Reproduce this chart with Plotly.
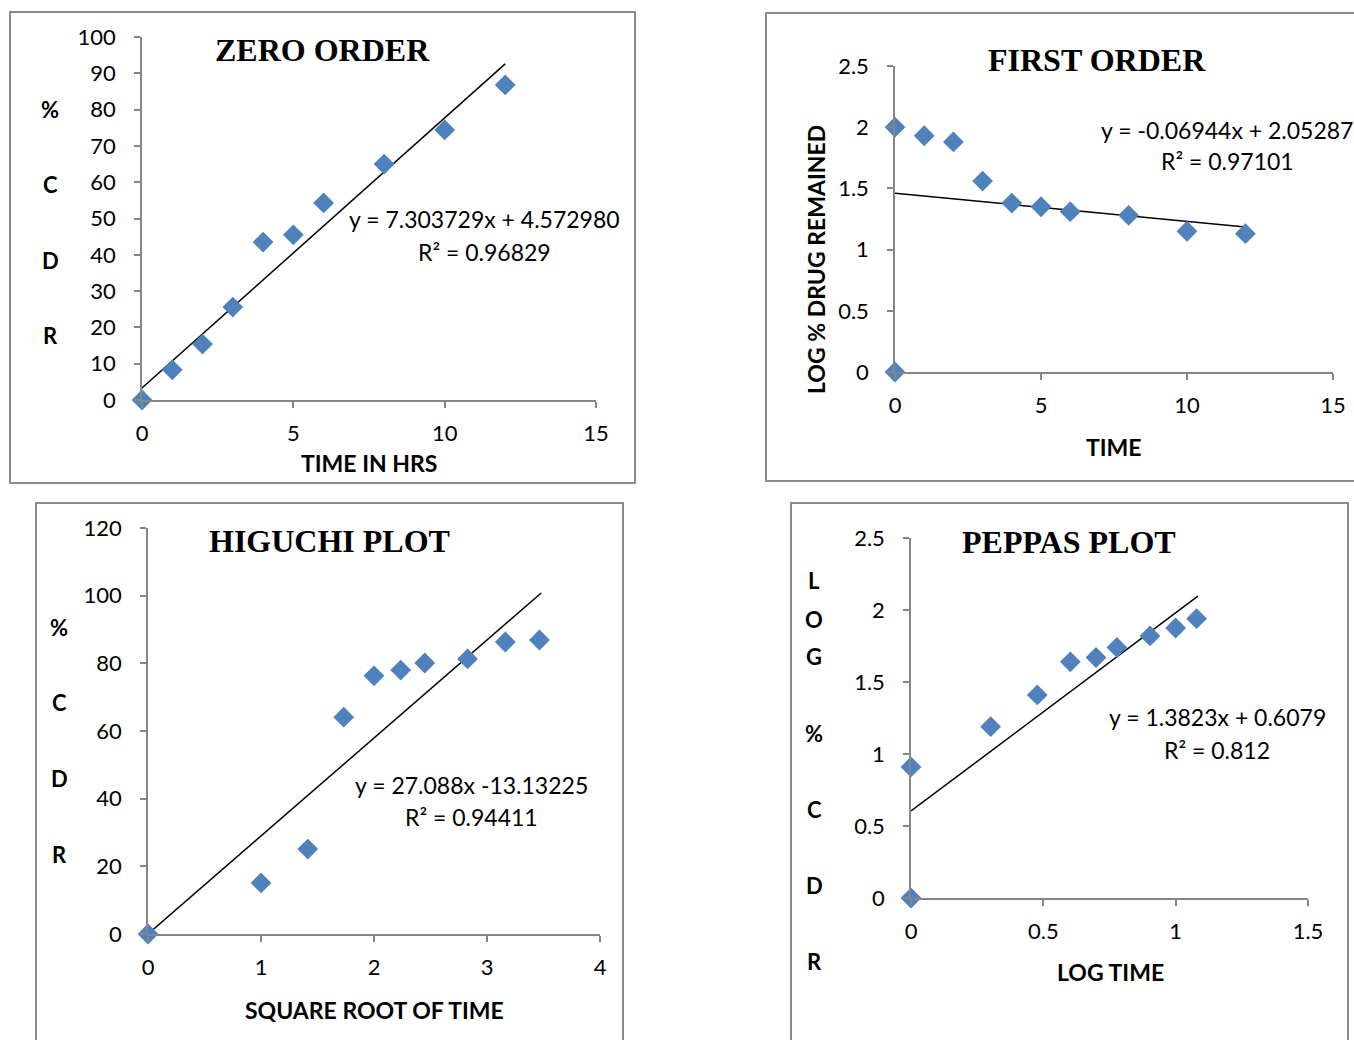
import plotly.graph_objects as go

W, H = 1354, 1040

# ---------------- data ----------------
zero_time = [0, 1, 2, 3, 4, 5, 6, 8, 10, 12]
zero_cdr = [0, 8.3, 15.4, 25.6, 43.5, 45.5, 54.3, 65.0, 74.4, 86.8]
zero_trend_x = [0, 12]
zero_trend_y = [3.3, 92.6]

first_time = [0, 0, 1, 2, 3, 4, 5, 6, 8, 10, 12]
first_log_remained = [0, 2.0, 1.93, 1.88, 1.56, 1.38, 1.35, 1.31, 1.28, 1.15, 1.13]
first_trend_x = [0, 12]
first_trend_y = [1.46, 1.185]

hig_sqrt_time = [0, 1, 1.414, 1.732, 2, 2.236, 2.449, 2.828, 3.162, 3.464]
hig_cdr = [0, 15.1, 25.1, 64.1, 76.3, 78.0, 80.1, 81.3, 86.3, 86.9]
hig_trend_x = [0, 3.48]
hig_trend_y = [0, 100.8]

pep_log_time = [0, 0, 0.301, 0.477, 0.602, 0.699, 0.778, 0.903, 1.0, 1.079]
pep_log_cdr = [0, 0.91, 1.19, 1.41, 1.64, 1.67, 1.74, 1.82, 1.875, 1.94]
pep_trend_x = [0, 1.084]
pep_trend_y = [0.604, 2.097]

# ---------------- styles ----------------
MARKER_COLOR = "#4F81BD"
AXIS_COLOR = "#868686"
BORDER_COLOR = "#8C8C8C"
SANS = "Lato, 'Open Sans', sans-serif"
TICK_FONT = dict(family=SANS, size=22, color="#000000")
LABEL_FONT = dict(family=SANS, size=22, color="#000000")
AXTITLE_FONT = dict(family=SANS, size=23, color="#000000")
TITLE_FONT = dict(family="'Liberation Serif', 'DejaVu Serif', serif", size=32, color="#000000")
EQ_FONT = dict(family=SANS, size=23, color="#000000")


def px(x):
    return x / W


def py(y):
    return 1 - y / H


fig = go.Figure()
annotations = []
shapes = []


def add_chart(idx, xs, ys, tx, ty, x_px, y_px, xr, yr, xdt, ydt, box):
    xa = "x" if idx == 1 else f"x{idx}"
    ya = "y" if idx == 1 else f"y{idx}"
    fig.add_trace(go.Scatter(x=tx, y=ty, mode="lines",
                             line=dict(color="#000000", width=1.5),
                             xaxis=xa, yaxis=ya, showlegend=False,
                             hoverinfo="skip", cliponaxis=False))
    fig.add_trace(go.Scatter(x=xs, y=ys, mode="markers",
                             marker=dict(symbol="diamond", size=16, color=MARKER_COLOR,
                                         line=dict(width=0)),
                             xaxis=xa, yaxis=ya, showlegend=False, cliponaxis=False))
    xkey = "xaxis" if idx == 1 else f"xaxis{idx}"
    ykey = "yaxis" if idx == 1 else f"yaxis{idx}"
    common = dict(showgrid=False, zeroline=False, showline=True, linecolor=AXIS_COLOR,
                  linewidth=1.5, ticks="outside", ticklen=6, tickcolor=AXIS_COLOR,
                  tickwidth=1.5, tickfont=TICK_FONT, fixedrange=True, automargin=False)
    fig.layout[xkey] = dict(domain=[px(x_px[0]), px(x_px[1])], range=xr, dtick=xdt,
                            tick0=0, anchor=ya, ticklabelstandoff=7, **common)
    fig.layout[ykey] = dict(domain=[py(y_px[1]), py(y_px[0])], range=yr, dtick=ydt,
                            tick0=0, anchor=xa, ticklabelstandoff=14, **common)
    x0, y0, x1, y1 = box
    shapes.append(dict(type="rect", xref="paper", yref="paper",
                       x0=px(x0), x1=px(x1), y0=py(y1), y1=py(y0),
                       line=dict(color=BORDER_COLOR, width=2), layer="below"))


def text(x, y, s, font, bold=False, angle=0, xanchor="center"):
    annotations.append(dict(x=px(x), y=py(y), xref="paper", yref="paper",
                            text=f"<b>{s}</b>" if bold else s, showarrow=False,
                            font=font, xanchor=xanchor, yanchor="middle",
                            textangle=angle))


# Zero order
add_chart(1, zero_time, zero_cdr, zero_trend_x, zero_trend_y,
          (142, 596), (37, 400), [0, 15], [0, 100], 5, 10, (10, 12, 635, 483))
text(322, 50, "ZERO ORDER", TITLE_FONT, bold=True)
text(484, 219, "y = 7.303729x + 4.572980", EQ_FONT)
text(484, 252, "R² = 0.96829", EQ_FONT)
text(369, 463, "TIME IN HRS", AXTITLE_FONT, bold=True)
for ch, yy in zip(["%", "C", "D", "R"], [110, 184, 260, 336]):
    text(50, yy, ch, LABEL_FONT, bold=True)

# First order
add_chart(2, first_time, first_log_remained, first_trend_x, first_trend_y,
          (895, 1333), (66, 372), [0, 15], [0, 2.5], 5, 0.5, (766, 13, 1362, 481))
text(1097, 60, "FIRST ORDER", TITLE_FONT, bold=True)
text(1099, 130, "y = -0.06944x + 2.05287", EQ_FONT, xanchor="left")
text(1227, 161, "R² = 0.97101", EQ_FONT)
text(1114, 447, "TIME", AXTITLE_FONT, bold=True)
text(816, 260, "LOG % DRUG REMAINED", AXTITLE_FONT, bold=True, angle=-90)

# Higuchi
add_chart(3, hig_sqrt_time, hig_cdr, hig_trend_x, hig_trend_y,
          (148, 600), (528, 934), [0, 4], [0, 120], 1, 20, (36, 503, 623, 1050))
text(329, 541, "HIGUCHI PLOT", TITLE_FONT, bold=True)
text(471, 785, "y = 27.088x -13.13225", EQ_FONT)
text(471, 817, "R² = 0.94411", EQ_FONT)
text(374, 1010, "SQUARE ROOT OF TIME", AXTITLE_FONT, bold=True)
for ch, yy in zip(["%", "C", "D", "R"], [627, 702, 778, 854]):
    text(59, yy, ch, LABEL_FONT, bold=True)

# Peppas
add_chart(4, pep_log_time, pep_log_cdr, pep_trend_x, pep_trend_y,
          (911, 1308), (538, 898), [0, 1.5], [0, 2.5], 0.5, 0.5, (791, 503, 1348, 1050))
text(1069, 542, "PEPPAS PLOT", TITLE_FONT, bold=True)
text(1217, 717, "y = 1.3823x + 0.6079", EQ_FONT)
text(1217, 750, "R² = 0.812", EQ_FONT)
text(1110, 972, "LOG TIME", AXTITLE_FONT, bold=True)
for ch, yy in zip(["L", "O", "G", "%", "C", "D", "R"], [580, 619, 656, 733, 809, 885, 961]):
    text(814, yy, ch, LABEL_FONT, bold=True)

fig.update_layout(width=W, height=H,
                  margin=dict(l=0, r=0, t=0, b=0, pad=0, autoexpand=False),
                  paper_bgcolor="#FFFFFF", plot_bgcolor="rgba(0,0,0,0)",
                  annotations=annotations, shapes=shapes, showlegend=False)

fig.write_html("out.html", config={"displayModeBar": False})
